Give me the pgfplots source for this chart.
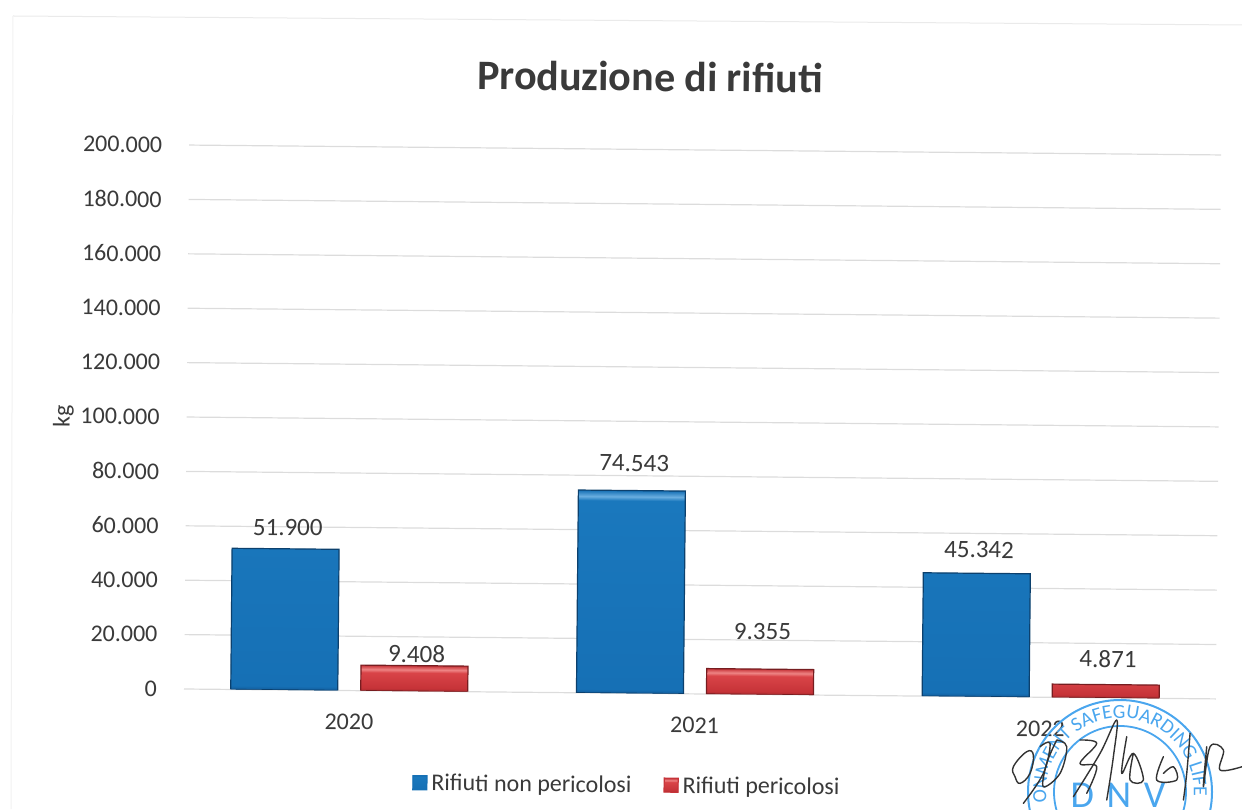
\documentclass[border=0pt]{standalone}
\usepackage{pgfplots}
\usepackage{pgfplotstable}
\pgfplotsset{compat=1.18}
\usepackage{fontspec}
\setmainfont{Carlito}
\usetikzlibrary{decorations.text}
\definecolor{txt}{HTML}{3A3A3A}
\definecolor{gridc}{HTML}{DCDCDC}
\definecolor{stampc}{HTML}{4AA6EE}
\definecolor{HTMLa}{HTML}{115C9C}
\definecolor{HTMLb}{HTML}{1670B5}
\definecolor{HTMLc}{HTML}{1A78BD}
\definecolor{HTMLd}{HTML}{6AAEE0}
\definecolor{HTMLe}{HTML}{A82A2E}
\definecolor{HTMLf}{HTML}{C63338}
\definecolor{HTMLg}{HTML}{D94448}
\definecolor{HTMLh}{HTML}{EE8484}
\pgfdeclareverticalshading{blueb}{100bp}{color(0bp)=(HTMLa);color(25bp)=(HTMLa);color(26bp)=(HTMLb);color(72.5bp)=(HTMLc);color(73.5bp)=(HTMLd);color(75bp)=(HTMLb);color(100bp)=(HTMLb)}
\pgfdeclareverticalshading{redb}{100bp}{color(0bp)=(HTMLe);color(25bp)=(HTMLe);color(31bp)=(HTMLf);color(61bp)=(HTMLg);color(67bp)=(HTMLh);color(75bp)=(HTMLf);color(100bp)=(HTMLf)}
\pgfplotstableread{
x y dy
0 51900 3
1 74543 6
2 45342 4
}\nonpericolosi
\pgfplotstableread{
x y dy
0 9408 -2
1 9355 11
2 4871 5
}\pericolosi
\begin{document}
\begin{tikzpicture}
\path[use as bounding box] (0,0) rectangle (621pt,404.5pt);
\begin{scope}[shift={(92pt,60pt)},rotate=-0.55,transform shape]
\begin{axis}[
  at={(0,0)},anchor=south west,
  scale only axis,width=516pt,height=272pt,
  xmin=-0.478,xmax=2.507,ymin=0,ymax=200000,
  axis line style={draw=none},
  tick style={draw=none},
  ymajorgrids,
  grid style={gridc,line width=0.6pt},
  ytick={0,20000,...,200000},
  xtick={0,1,2},xticklabels={2020,2021,2022},
  scaled y ticks=false,
  /pgf/number format/fixed,
  /pgf/number format/precision=0,
  /pgf/number format/assume math mode=true,
  /pgf/number format/1000 sep={.},
  /pgf/number format/min exponent for 1000 sep=0,
  ticklabel style={font=\fontsize{12}{14}\selectfont,text=txt},
  yticklabel shift=10pt,
  xticklabel shift=4pt,
  ylabel={kg},ylabel style={font=\fontsize{12}{14}\selectfont,text=txt,yshift=-3.5pt},
  title={\textbf{Produzione di rifiuti}},
  title style={font=\fontsize{21}{25}\selectfont,text=txt,at={(0.446,1)},yshift=19.5pt},
  ybar,bar width=53.5pt,
  nodes near coords,
  visualization depends on={\thisrow{dy}\as\dy},
  every node near coord/.append style={font=\fontsize{12.5}{14}\selectfont,text=txt,yshift=\dy pt,xshift=1pt},
  legend columns=2,
  legend style={draw=none,fill=none,at={(0.431,-0.17)},anchor=center,font=\fontsize{12}{14}\selectfont,text=txt,/tikz/every even column/.append style={column sep=14pt}},
]
\addplot[bar shift=-32.5pt,draw=HTMLa!70!black,line width=0.6pt,shading=blueb,
  legend image code/.code={\fill[HTMLb] (0pt,-3pt) rectangle (7pt,4pt);}] table[x=x,y=y] {\nonpericolosi};
\addplot[bar shift=32.5pt,draw=HTMLe!70!black,line width=0.6pt,shading=redb,
  legend image code/.code={\fill[HTMLf] (0pt,-3pt) rectangle (7pt,4pt);}] table[x=x,y=y] {\pericolosi};
\legend{Rifiuti non pericolosi,Rifiuti pericolosi}
\end{axis}
\end{scope}
% scanned page: chart frame, stamp and signature
\begin{scope}
\clip (0,0) rectangle (621pt,404.5pt);
\path[decorate,decoration={text along path,text align=center,text={|\fontsize{10}{12}\selectfont\color{stampc}|ONMENT SAFEGUARDING LIFE}}]
  (560pt,8.5pt) ++(190:37pt) arc[start angle=190,end angle=-5,radius=37pt];
\begin{scope}[shift={(0,404.5pt)},x=0.5pt,y=-0.5pt]
\draw[gridc!60,line width=0.5pt] (13,16)--(1242,25);
\draw[gridc!40,line width=0.5pt] (13,16)--(11,809);
\draw[stampc,line width=1pt] (1120,792) circle (46pt);
\draw[stampc,line width=0.9pt] (1120,792) circle (33pt);
\node[text=stampc,font=\fontsize{19}{22}\selectfont] at (1118,795) {D\,\,N\,\,V};
\end{scope}
\begin{scope}[shift={(450pt,84.5pt)},x=0.1667pt,y=-0.1667pt,black!80,line width=0.7pt,line join=round,line cap=round]
\draw plot[smooth cycle,tension=0.7] coordinates {(340,380)(380,335)(400,345)(390,400)(360,430)(345,410)};
\draw plot[smooth,tension=0.6] coordinates {(420,320)(450,310)(430,400)(370,490)};
\draw plot[smooth,tension=0.6] coordinates {(470,300)(500,320)(480,400)(430,440)(440,370)(470,300)};
\draw plot[smooth,tension=0.6] coordinates {(540,300)(590,310)(540,370)(590,380)(560,460)};
\draw plot[smooth,tension=0.6] coordinates {(520,470)(600,340)(650,240)(640,350)(620,480)};
\draw plot[smooth,tension=0.6] coordinates {(680,290)(665,400)(700,340)(730,420)(690,420)(700,340)};
\draw plot[smooth,tension=0.6] coordinates {(790,350)(770,420)(830,420)(820,380)(790,400)};
\draw plot[smooth,tension=0.6] coordinates {(870,280)(860,400)(850,480)};
\draw plot[smooth,tension=0.6] coordinates {(920,320)(910,440)(930,320)(970,330)(960,390)(1026,380)};
\end{scope}
\end{scope}
\end{tikzpicture}
\end{document}
